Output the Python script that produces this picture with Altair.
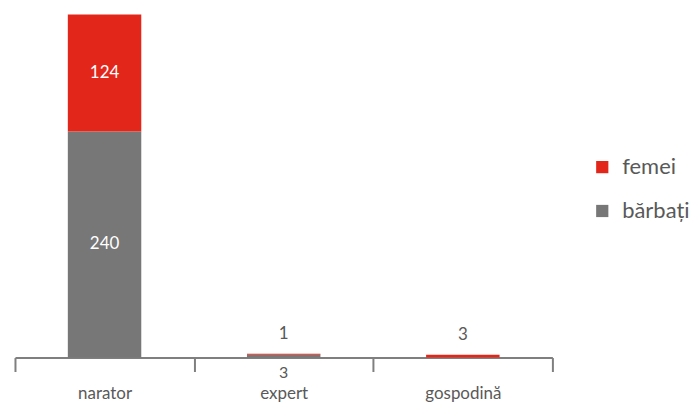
import altair as alt
import pandas as pd

categories = ["narator", "expert", "gospodină"]
series = ["femei", "bărbați"]
barbati = [240, 3, 0]
femei = [124, 1, 3]

RED = "#E3261A"
GRAY = "#777777"
TXT = "#595959"
FONT = "Lato"

rows = []
for c, b, f in zip(categories, barbati, femei):
    rows.append({"cat": c, "ser": "bărbați", "val": b, "ord": 0})
    rows.append({"cat": c, "ser": "femei", "val": f, "ord": 1})
df = pd.DataFrame(rows)

inside, above, below = [], [], []
for c, b, f in zip(categories, barbati, femei):
    if b >= 20:
        inside.append({"cat": c, "y": b / 2, "t": str(b)})
    elif b > 0:
        below.append({"cat": c, "y": 0, "t": str(b)})
    if f >= 20:
        inside.append({"cat": c, "y": b + f / 2, "t": str(f)})
    elif f > 0:
        above.append({"cat": c, "y": b + f, "t": str(f)})

xenc = alt.X("cat:N", sort=categories, title=None,
             scale=alt.Scale(paddingInner=0, paddingOuter=0),
             axis=alt.Axis(tickBand="extent", labelAngle=0, domainColor="#7f7f7f",
                           domainWidth=2, tickColor="#7f7f7f", tickWidth=2, tickSize=14,
                           labelColor=TXT, labelFont=FONT, labelFontSize=17,
                           labelFontWeight="normal", labelPadding=14))
yscale = alt.Scale(domain=[0, 364], nice=False)

bars = alt.Chart(df).mark_bar(width=alt.RelativeBandSize(0.41)).encode(
    x=xenc,
    y=alt.Y("val:Q", stack="zero", scale=yscale, axis=None),
    color=alt.Color("ser:N", scale=alt.Scale(domain=series, range=[RED, GRAY]),
                    legend=alt.Legend(title=None, orient="none", legendX=578, legendY=142,
                                      symbolType="square", symbolSize=150, symbolStrokeWidth=0,
                                      labelFont=FONT, labelFontSize=22, labelColor=TXT,
                                      rowPadding=22, labelOffset=9)),
    order=alt.Order("ord:Q"),
)

t_in = alt.Chart(pd.DataFrame(inside)).mark_text(color="white", font=FONT, fontSize=17).encode(
    x=alt.X("cat:N", sort=categories), y=alt.Y("y:Q", scale=yscale), text="t:N")
t_above = alt.Chart(pd.DataFrame(above)).mark_text(color=TXT, font=FONT, fontSize=17, dy=-20).encode(
    x=alt.X("cat:N", sort=categories), y=alt.Y("y:Q", scale=yscale), text="t:N")
t_below = alt.Chart(pd.DataFrame(below)).mark_text(color=TXT, font=FONT, fontSize=16, dy=16).encode(
    x=alt.X("cat:N", sort=categories), y=alt.Y("y:Q", scale=yscale), text="t:N")

chart = alt.layer(bars, t_in, t_above, t_below).properties(
    width=539, height=344, background="white",
    padding={"left": 6, "top": 6, "right": 0, "bottom": 0},
).configure_view(strokeWidth=0, stroke="transparent")

chart.save("out.html", embed_options={"renderer": "svg", "actions": False})
